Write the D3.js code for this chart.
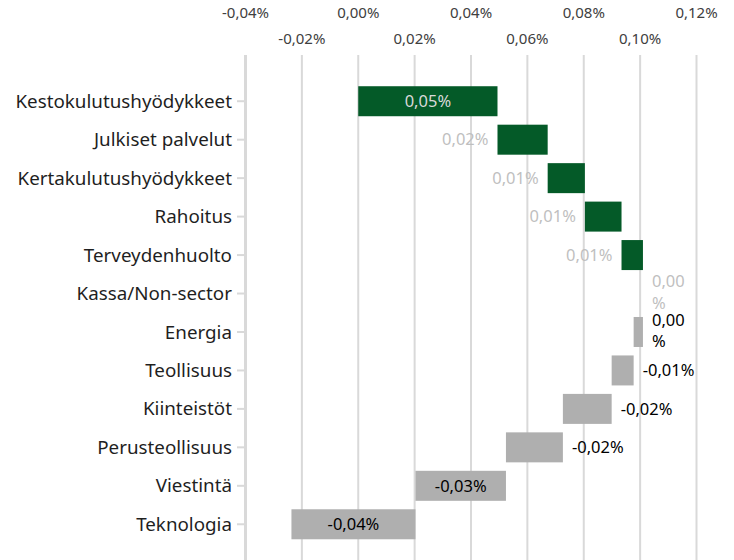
<!DOCTYPE html>
<html>
<head>
<meta charset="utf-8">
<script src="https://cdn.jsdelivr.net/npm/d3@7"></script>
<style>
  body { margin: 0; background: #fff; }
  svg { display: block; font-family: "Noto Sans", sans-serif; }
</style>
</head>
<body>
<svg id="chart" width="734" height="560"></svg>
<script>
// sector contributions, percentage points
let sectors = ["Kestokulutushyödykkeet", "Julkiset palvelut", "Kertakulutushyödykkeet", "Rahoitus",
    "Terveydenhuolto", "Kassa/Non-sector", "Energia", "Teollisuus", "Kiinteistöt",
    "Perusteollisuus", "Viestintä", "Teknologia"]
let contributions = [0.0494, 0.0178, 0.0132, 0.0130, 0.0076, 0.0, -0.0033, -0.0078, -0.0173, -0.0202, -0.0321, -0.0440]
let tickValues = [-0.04, -0.02, 0.00, 0.02, 0.04, 0.06, 0.08, 0.10, 0.12]

let fi = d3.formatLocale({decimal: ",", thousands: " ", grouping: [3], currency: ["", " €"], minus: "-"})
let fmt = (v) => fi.format(".2f")(v) + "%"

let svg = d3.select("#chart")

let x = d3.scaleLinear().domain([-0.04, 0.12]).range([245.5, 696.5])
let y = d3.scaleBand().domain(sectors).range([82, 543.5]).paddingInner(0.22).paddingOuter(0.11)

// waterfall steps
let running = 0
let steps = contributions.map((v, i) => {
    let start = running
    running += v
    return {name: sectors[i], value: v, start: start, end: running}
})

// gridlines
svg.append("g")
    .selectAll("line")
    .data(tickValues)
    .enter()
    .append("line")
    .attr("x1", d => x(d))
    .attr("x2", d => x(d))
    .attr("y1", 55)
    .attr("y2", 560)
    .attr("stroke", "#d9d9d9")
    .attr("stroke-width", (d, i) => i === 0 ? 3 : 2)

// top tick labels, staggered on two rows
svg.append("g")
    .selectAll("text")
    .data(tickValues)
    .enter()
    .append("text")
    .attr("x", d => x(d))
    .attr("y", (d, i) => i % 2 === 0 ? 18 : 44)
    .attr("text-anchor", "middle")
    .style("font-size", "15px")
    .attr("fill", "#404040")
    .text(d => fmt(d))

// category ticks + labels
let cat = svg.append("g")
cat.selectAll("line")
    .data(sectors)
    .enter()
    .append("line")
    .attr("x1", 237)
    .attr("x2", 244)
    .attr("y1", d => y(d) + y.bandwidth() / 2)
    .attr("y2", d => y(d) + y.bandwidth() / 2)
    .attr("stroke", "#d9d9d9")
    .attr("stroke-width", 2)

cat.selectAll("text")
    .data(sectors)
    .enter()
    .append("text")
    .attr("x", 232)
    .attr("y", d => y(d) + y.bandwidth() / 2)
    .attr("dy", "0.35em")
    .attr("text-anchor", "end")
    .style("font-size", "18.8px")
    .attr("fill", "#1f1f1f")
    .text(d => d)

// bars
svg.append("g")
    .selectAll("rect")
    .data(steps)
    .enter()
    .append("rect")
    .attr("x", d => x(Math.min(d.start, d.end)))
    .attr("y", d => y(d.name))
    .attr("width", d => Math.abs(x(d.end) - x(d.start)))
    .attr("height", y.bandwidth())
    .attr("fill", d => d.value > 0 ? "#045a28" : "#afafaf")

// value labels
let labels = svg.append("g")
steps.forEach((d) => {
    let w = Math.abs(x(d.end) - x(d.start))
    let cy = y(d.name) + y.bandwidth() / 2
    let txt = fmt(d.value)
    let up = d.value >= 0
    let t = labels.append("text").style("font-size", "16.5px")
    if (txt === "0,00%") {
        // tiny steps: label wraps right of the bars
        let lx = x(Math.max(d.start, d.end, steps[4].end)) + 9
        t.attr("x", lx).attr("y", cy).attr("fill", d.value === 0 ? "#bfbfbf" : "#000")
        t.append("tspan").attr("x", lx).attr("dy", "-0.38em").text("0,00")
        t.append("tspan").attr("x", lx).attr("dy", "1.3em").text("%")
    } else if (w > 60) {
        t.attr("x", (x(d.start) + x(d.end)) / 2)
            .attr("y", cy).attr("dy", "0.35em")
            .attr("text-anchor", "middle")
            .attr("fill", up ? "#d9d9d9" : "#000")
            .text(txt)
    } else if (up) {
        t.attr("x", x(d.start) - 9)
            .attr("y", cy).attr("dy", "0.35em")
            .attr("text-anchor", "end")
            .attr("fill", "#bfbfbf")
            .text(txt)
    } else {
        t.attr("x", x(d.start) + 9)
            .attr("y", cy).attr("dy", "0.35em")
            .attr("fill", "#000")
            .text(txt)
    }
})
</script>
</body>
</html>
